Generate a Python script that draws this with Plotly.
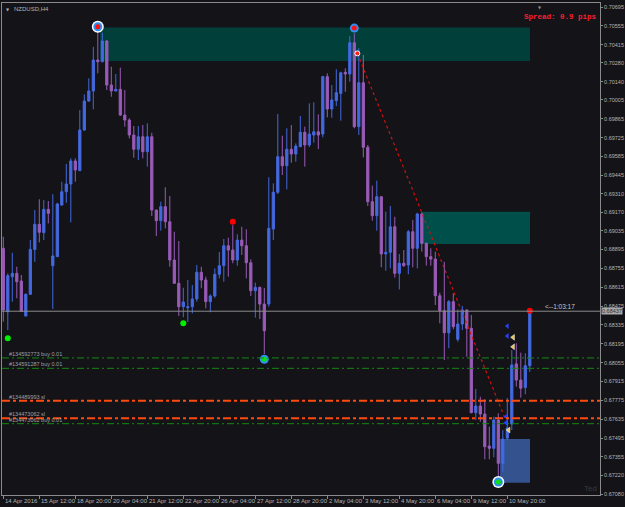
import plotly.graph_objects as go

# ---------------- data (NZDUSD, H4) ----------------
open_ = [0.68904, 0.68433, 0.68693, 0.68718, 0.68661, 0.68401, 0.68562, 0.68896, 0.69082, 0.69020,
         0.69193, 0.68775, 0.68842, 0.69225, 0.69324, 0.69381, 0.69552, 0.69480, 0.69782, 0.69997,
         0.70072, 0.70302, 0.70289, 0.70443, 0.70116, 0.70072, 0.70084, 0.69893, 0.69856, 0.69745,
         0.69639, 0.69732, 0.69621, 0.69732, 0.69188, 0.69109, 0.69213, 0.69101, 0.68817, 0.68644,
         0.68470, 0.68463, 0.68470, 0.68528, 0.68726, 0.68669, 0.68508, 0.68550, 0.68711, 0.68775,
         0.68923, 0.68891, 0.68817, 0.68965, 0.68923, 0.68797, 0.68589, 0.68614, 0.68490, 0.68490,
         0.69047, 0.69320, 0.69584, 0.69517, 0.69639, 0.69604, 0.69658, 0.69765, 0.69671, 0.69745,
         0.69769, 0.69752, 0.70178, 0.69938, 0.70000, 0.70054, 0.70210, 0.70198, 0.70430, 0.69807,
         0.70133, 0.69654, 0.69250, 0.69146, 0.69287, 0.68862, 0.68874, 0.69064, 0.68718, 0.68793,
         0.68780, 0.69027, 0.68904, 0.69159, 0.68941, 0.68842, 0.68824, 0.68552, 0.68441, 0.68277,
         0.68508, 0.68228, 0.68342, 0.68446, 0.68310, 0.67684, 0.67733, 0.67674, 0.67436, 0.67419,
         0.67629, 0.67308, 0.67495, 0.67600, 0.68046, 0.67926, 0.67870, 0.68032]
high = [0.68990, 0.68718, 0.68871, 0.68767, 0.68706, 0.68570, 0.68965, 0.69188, 0.69268, 0.69262,
        0.69255, 0.69305, 0.69242, 0.69398, 0.69530, 0.69572, 0.69572, 0.69930, 0.70047, 0.70166,
        0.70400, 0.70525, 0.70505, 0.70450, 0.70252, 0.70198, 0.70245, 0.70079, 0.69869, 0.69812,
        0.69812, 0.69819, 0.69832, 0.69762, 0.69190, 0.69250, 0.69357, 0.69292, 0.69027, 0.68958,
        0.68611, 0.68669, 0.68631, 0.68780, 0.68767, 0.68693, 0.68562, 0.68755, 0.68876, 0.68973,
        0.68983, 0.69075, 0.69008, 0.69064, 0.69045, 0.68822, 0.68649, 0.68619, 0.68610, 0.69431,
        0.69386, 0.69901, 0.69740, 0.69795, 0.69819, 0.69683, 0.69886, 0.69807, 0.69980, 0.69988,
        0.69899, 0.70185, 0.70203, 0.70116, 0.70233, 0.70215, 0.70240, 0.70480, 0.70500, 0.70389,
        0.70339, 0.69671, 0.69369, 0.69406, 0.69290, 0.69176, 0.69218, 0.69138, 0.68862, 0.68891,
        0.69040, 0.69114, 0.69168, 0.69170, 0.68945, 0.68904, 0.68879, 0.68574, 0.68804, 0.68520,
        0.68570, 0.68451, 0.68476, 0.68450, 0.68409, 0.67860, 0.67802, 0.67783, 0.67580, 0.67654,
        0.67679, 0.67555, 0.67793, 0.68149, 0.68199, 0.68129, 0.68125, 0.68458]
low = [0.68359, 0.68297, 0.68508, 0.68533, 0.68431, 0.68398, 0.68558, 0.68804, 0.68948, 0.68965,
       0.69089, 0.68453, 0.68840, 0.69221, 0.69242, 0.69097, 0.69398, 0.69478, 0.69775, 0.69992,
       0.69936, 0.70203, 0.70285, 0.70079, 0.70029, 0.70067, 0.69886, 0.69807, 0.69720, 0.69576,
       0.69559, 0.69572, 0.69510, 0.69144, 0.68995, 0.69035, 0.69052, 0.68767, 0.68639, 0.68401,
       0.68392, 0.68357, 0.68421, 0.68508, 0.68607, 0.68458, 0.68429, 0.68537, 0.68681, 0.68656,
       0.68693, 0.68793, 0.68775, 0.68854, 0.68681, 0.68550, 0.68389, 0.68379, 0.68119, 0.68470,
       0.68965, 0.69307, 0.69448, 0.69342, 0.69539, 0.69547, 0.69655, 0.69510, 0.69655, 0.69688,
       0.69641, 0.69728, 0.69876, 0.69873, 0.69960, 0.69851, 0.70066, 0.70141, 0.69795, 0.69745,
       0.69579, 0.69218, 0.69109, 0.69035, 0.68763, 0.68738, 0.68755, 0.68686, 0.68599, 0.68767,
       0.68711, 0.68763, 0.68755, 0.68879, 0.68775, 0.68775, 0.68483, 0.68347, 0.68075, 0.68162,
       0.68303, 0.68211, 0.68297, 0.68099, 0.67679, 0.67629, 0.67617, 0.67338, 0.67338, 0.67353,
       0.67214, 0.67246, 0.67480, 0.67555, 0.67877, 0.67795, 0.67820, 0.67986]
close = [0.68446, 0.68701, 0.68718, 0.68656, 0.68435, 0.68562, 0.68896, 0.69082, 0.69023, 0.69193,
         0.69164, 0.68847, 0.69233, 0.69324, 0.69381, 0.69552, 0.69485, 0.69782, 0.69997, 0.70072,
         0.70302, 0.70289, 0.70443, 0.70116, 0.70072, 0.70084, 0.69893, 0.69856, 0.69745, 0.69639,
         0.69732, 0.69621, 0.69732, 0.69188, 0.69109, 0.69213, 0.69101, 0.68817, 0.68644, 0.68470,
         0.68505, 0.68470, 0.68528, 0.68726, 0.68669, 0.68508, 0.68550, 0.68711, 0.68775, 0.68923,
         0.68891, 0.68817, 0.68965, 0.68923, 0.68797, 0.68589, 0.68614, 0.68490, 0.68292, 0.69052,
         0.69320, 0.69584, 0.69517, 0.69639, 0.69604, 0.69663, 0.69765, 0.69671, 0.69752, 0.69769,
         0.69745, 0.70178, 0.69938, 0.70005, 0.70059, 0.70207, 0.70198, 0.70430, 0.69807, 0.70133,
         0.69654, 0.69250, 0.69146, 0.69287, 0.68862, 0.68874, 0.69064, 0.68718, 0.68793, 0.68775,
         0.69027, 0.68904, 0.69159, 0.68941, 0.68842, 0.68824, 0.68552, 0.68441, 0.68277, 0.68508,
         0.68322, 0.68342, 0.68446, 0.68310, 0.67684, 0.67733, 0.67674, 0.67431, 0.67419, 0.67629,
         0.67308, 0.67488, 0.67570, 0.68038, 0.67926, 0.67865, 0.68032, 0.68437]
bar_index = list(range(len(open_)))

time_tick_index = [0, 8, 16, 24, 32, 40, 48, 56, 64, 72, 80, 88, 96, 104, 112]
time_tick_labels = ["14 Apr 2016", "15 Apr 12:00", "18 Apr 20:00", "20 Apr 04:00", "21 Apr 12:00",
                    "22 Apr 20:00", "26 Apr 04:00", "27 Apr 12:00", "28 Apr 20:00", "2 May 04:00",
                    "3 May 12:00", "4 May 20:00", "6 May 04:00", "9 May 12:00", "10 May 20:00"]

price_tick_labels = ["0.70695", "0.70555", "0.70415", "0.70280", "0.70140", "0.70005", "0.69865",
                     "0.69725", "0.69585", "0.69445", "0.69310", "0.69170", "0.69035", "0.68895",
                     "0.68755", "0.68615", "0.68475", "0.68335", "0.68195", "0.68055", "0.67915",
                     "0.67775", "0.67635", "0.67495", "0.67355", "0.67220", "0.67080"]
price_tick_values = [float(s) for s in price_tick_labels]

bid_price = 0.68437
bid_label = "0.68437"
timer_text = "<--1:03:17"
spread_text = "Spread: 0.9 pips"
symbol_text = "NZDUSD,H4"

# zones (supply / demand rectangles)
zone_start = [21.5, 93.0, 110.4]
zone_end = [117.05, 117.05, 117.05]
zone_top = [0.70543, 0.69176, 0.67488]
zone_bottom = [0.70294, 0.68936, 0.67164]

# order / stop-loss levels
order_prices = [0.68090, 0.68013, 0.67773, 0.67642, 0.67602]
order_labels = ["#134592773 buy 0.01", "#134591287 buy 0.01", "#134489993 sl",
                "#134473062 sl", "#134473062 buy 0.01"]
order_kind = ["buy", "buy", "sl", "sl", "buy"]

# closed trade (dotted history line)
trade_index = [78.67, 111.5]
trade_price = [0.70351, 0.67642]

# swing markers
swing_high_index = [21, 78]
swing_high_price = [0.70549, 0.70539]
swing_low_index = [58, 110]
swing_low_price = [0.68080, 0.67169]
ringed_index = [21, 110]
ringed_price = [0.70549, 0.67169]
red_dot_index = [51, 117]
red_dot_price = [0.69101, 0.68441]
green_dot_index = [1, 40]
green_dot_price = [0.68236, 0.68347]

# small trade arrows
arrow_blue_index = [112.0, 112.0, 111.7, 111.7]
arrow_blue_price = [0.68327, 0.68253, 0.67654, 0.67609]
arrow_yellow_index = [113.3, 113.3, 112.3]
arrow_yellow_price = [0.68243, 0.68173, 0.67555]

# ---------------- style ----------------
BG = "#131318"
FRAME = "#8a8a8a"
TXT = "#b4b4b4"
UP = "#4469e0"
DN = "#9a5cb8"
FONT = "Liberation Sans"

fig = go.Figure()

fig.add_trace(go.Candlestick(
    x=bar_index, open=open_, high=high, low=low, close=close,
    increasing=dict(line=dict(color=UP, width=1), fillcolor=UP),
    decreasing=dict(line=dict(color=DN, width=1), fillcolor=DN),
    whiskerwidth=0, hoverinfo="skip"))

# trade history dotted line
fig.add_trace(go.Scatter(x=trade_index, y=trade_price, mode="lines",
                         line=dict(color="#d01010", width=1.2, dash="dot"), hoverinfo="skip"))
fig.add_trace(go.Scatter(x=trade_index[:1], y=trade_price[:1], mode="markers",
                         marker=dict(size=5, color="#ff2020", line=dict(color="#ffffff", width=1)),
                         hoverinfo="skip"))

# swing markers
fig.add_trace(go.Scatter(x=ringed_index, y=ringed_price, mode="markers",
                         marker=dict(size=12, color="#ffffff"), hoverinfo="skip"))
fig.add_trace(go.Scatter(x=swing_high_index + swing_low_index,
                         y=swing_high_price + swing_low_price, mode="markers",
                         marker=dict(size=9, color="#2f8ff0"), hoverinfo="skip"))
fig.add_trace(go.Scatter(x=swing_high_index, y=swing_high_price, mode="markers",
                         marker=dict(size=5, color="#ff1010"), hoverinfo="skip"))
fig.add_trace(go.Scatter(x=swing_low_index, y=swing_low_price, mode="markers",
                         marker=dict(size=5, color="#10e010"), hoverinfo="skip"))
fig.add_trace(go.Scatter(x=red_dot_index, y=red_dot_price, mode="markers",
                         marker=dict(size=6, color="#ff0000"), hoverinfo="skip"))
fig.add_trace(go.Scatter(x=green_dot_index, y=green_dot_price, mode="markers",
                         marker=dict(size=6, color="#00ee00"), hoverinfo="skip"))
fig.add_trace(go.Scatter(x=arrow_blue_index, y=arrow_blue_price, mode="markers",
                         marker=dict(size=5, color="#2a40ff", symbol="triangle-left"),
                         hoverinfo="skip"))
fig.add_trace(go.Scatter(x=arrow_yellow_index, y=arrow_yellow_price, mode="markers",
                         marker=dict(size=5, color="#f2c24a", symbol="triangle-left",
                                     line=dict(color="#ffffff", width=0.5)),
                         hoverinfo="skip"))

shapes = []
zone_fill = ["#003f3a", "#004f4a", "#34528e"]
for i in range(len(zone_start)):
    shapes.append(dict(type="rect", xref="x", yref="y", x0=zone_start[i], x1=zone_end[i],
                       y0=zone_bottom[i], y1=zone_top[i], fillcolor=zone_fill[i],
                       line=dict(width=0), layer="below"))
# bid line
shapes.append(dict(type="line", xref="paper", yref="y", x0=0, x1=1, y0=bid_price, y1=bid_price,
                   line=dict(color="#8c8c8c", width=1), layer="above"))
for p, k in zip(order_prices, order_kind):
    if k == "buy":
        ln = dict(color="#138a13", width=1, dash="7px,3px,2px,3px")
    else:
        ln = dict(color="#ff4a10", width=2, dash="8px,3px,3px,3px")
    shapes.append(dict(type="line", xref="paper", yref="y", x0=0, x1=1, y0=p, y1=p,
                       line=ln, layer="above"))

annotations = []
for i, lab in zip(time_tick_index, time_tick_labels):
    annotations.append(dict(x=i, y=0, xref="x", yref="paper", text=lab, showarrow=False,
                            xanchor="left", yanchor="top", xshift=0, yshift=-1,
                            font=dict(size=6, color=TXT, family=FONT)))
for p, lab in zip(order_prices, order_labels):
    annotations.append(dict(x=0.008, y=p, xref="paper", yref="y", text=lab, showarrow=False,
                            xanchor="left", yanchor="bottom", yshift=-1,
                            font=dict(size=5.5, color="#a0a0a0", family=FONT)))
annotations.append(dict(x=1, y=bid_price, xref="paper", yref="y", text=bid_label,
                        showarrow=False, xanchor="left", yanchor="middle", xshift=1,
                        bgcolor="#a8a8a8", borderpad=0,
                        font=dict(size=5.5, color="#303030", family=FONT)))
annotations.append(dict(x=120.0, y=bid_price, xref="x", yref="y", text=timer_text,
                        showarrow=False, xanchor="left", yanchor="bottom", yshift=-1,
                        font=dict(size=6.5, color="#c8c8c8", family=FONT)))
annotations.append(dict(x=0.999, y=0.983, xref="paper", yref="paper", text="<b>" + spread_text + "</b>",
                        showarrow=False, xanchor="right", yanchor="top",
                        font=dict(size=7.5, color="#ff1e2e", family="Liberation Mono")))
annotations.append(dict(x=0.016, y=0.998, xref="paper", yref="paper", text=symbol_text,
                        showarrow=False, xanchor="left", yanchor="top",
                        font=dict(size=6, color=TXT, family=FONT)))
annotations.append(dict(x=0.004, y=0.996, xref="paper", yref="paper", text="▼",
                        showarrow=False, xanchor="left", yanchor="top",
                        font=dict(size=4, color=TXT, family="DejaVu Sans")))
annotations.append(dict(x=119.3, y=1.0, xref="x", yref="paper", text="▼",
                        showarrow=False, xanchor="center", yanchor="top",
                        font=dict(size=4, color="#909090", family="DejaVu Sans")))
annotations.append(dict(x=0.998, y=0.0, xref="paper", yref="paper", text="Ted",
                        showarrow=False, xanchor="right", yanchor="bottom",
                        font=dict(size=8, color="#3a3a3e", family=FONT)))

fig.update_layout(
    template="none",
    width=625, height=507,
    margin=dict(l=2, r=25, t=3, b=12),
    paper_bgcolor=BG, plot_bgcolor=BG,
    showlegend=False,
    shapes=shapes, annotations=annotations,
    xaxis=dict(range=[-0.29, 132.6], showgrid=False, zeroline=False, showline=True, mirror=True,
               linecolor=FRAME, linewidth=1, ticks="outside", ticklen=3, tickcolor=FRAME,
               tickvals=time_tick_index, ticktext=[""] * len(time_tick_index),
               rangeslider=dict(visible=False), fixedrange=True),
    yaxis=dict(side="right", range=[0.670726, 0.70725], showgrid=False, zeroline=False,
               showline=True, mirror=True, linecolor=FRAME, linewidth=1,
               ticks="outside", ticklen=2, tickcolor=FRAME,
               tickvals=price_tick_values, ticktext=price_tick_labels,
               tickfont=dict(size=5.5, color=TXT, family=FONT), fixedrange=True),
)

fig.write_html("out.html", config={"displayModeBar": False})
